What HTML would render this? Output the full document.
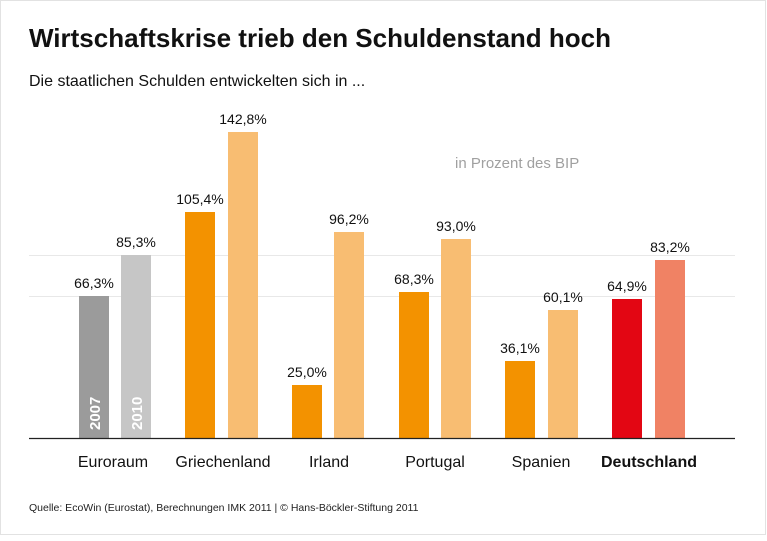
<!DOCTYPE html>
<html><head><meta charset="utf-8"><style>
body{margin:0;width:767px;height:536px;background:#fff;overflow:hidden;font-family:"Liberation Sans",sans-serif}
</style></head><body>
<svg width="767" height="536" xmlns="http://www.w3.org/2000/svg" font-family="Liberation Sans, sans-serif">
<rect x="0.5" y="0.5" width="765" height="534" fill="#fff" stroke="#e2e2e2"/>
<text x="29" y="47" font-size="26" font-weight="bold" fill="#111">Wirtschaftskrise trieb den Schuldenstand hoch</text>
<text x="29" y="86" font-size="16" fill="#111">Die staatlichen Schulden entwickelten sich in ...</text>
<text x="455" y="168" font-size="15" fill="#a0a0a0">in Prozent des BIP</text>
<line x1="29" y1="255.5" x2="735" y2="255.5" stroke="#e8e8e8"/>
<line x1="29" y1="296.5" x2="735" y2="296.5" stroke="#e8e8e8"/>
<g font-size="14" fill="#111" text-anchor="middle">
<rect x="79" y="296" width="30" height="142" fill="#9b9b9b"/><text x="94" y="288">66,3%</text>
<rect x="121" y="255" width="30" height="183" fill="#c6c6c6"/><text x="136" y="247">85,3%</text>
<rect x="185" y="212" width="30" height="226" fill="#f39200"/><text x="200" y="204">105,4%</text>
<rect x="228" y="132" width="30" height="306" fill="#f8bd72"/><text x="243" y="124">142,8%</text>
<rect x="292" y="385" width="30" height="53" fill="#f39200"/><text x="307" y="377">25,0%</text>
<rect x="334" y="232" width="30" height="206" fill="#f8bd72"/><text x="349" y="224">96,2%</text>
<rect x="399" y="292" width="30" height="146" fill="#f39200"/><text x="414" y="284">68,3%</text>
<rect x="441" y="239" width="30" height="199" fill="#f8bd72"/><text x="456" y="231">93,0%</text>
<rect x="505" y="361" width="30" height="77" fill="#f39200"/><text x="520" y="353">36,1%</text>
<rect x="548" y="310" width="30" height="128" fill="#f8bd72"/><text x="563" y="302">60,1%</text>
<rect x="612" y="299" width="30" height="139" fill="#e30613"/><text x="627" y="291">64,9%</text>
<rect x="655" y="260" width="30" height="178" fill="#f08264"/><text x="670" y="252">83,2%</text>
</g>
<g font-size="15" font-weight="bold" fill="#fff">
<text transform="translate(100,430) rotate(-90)">2007</text>
<text transform="translate(142,430) rotate(-90)">2010</text>
</g>
<line x1="29" y1="438.5" x2="735" y2="438.5" stroke="#222" stroke-width="1.3"/>
<g font-size="16" fill="#111" text-anchor="middle">
<text x="113" y="467">Euroraum</text>
<text x="223" y="467">Griechenland</text>
<text x="329" y="467">Irland</text>
<text x="435" y="467">Portugal</text>
<text x="541" y="467">Spanien</text>
<text x="649" y="467" font-weight="bold">Deutschland</text>
</g>
<text x="29" y="511" font-size="10.5" fill="#222">Quelle: EcoWin (Eurostat), Berechnungen IMK 2011 | © Hans-Böckler-Stiftung 2011</text>
</svg>
</body></html>
